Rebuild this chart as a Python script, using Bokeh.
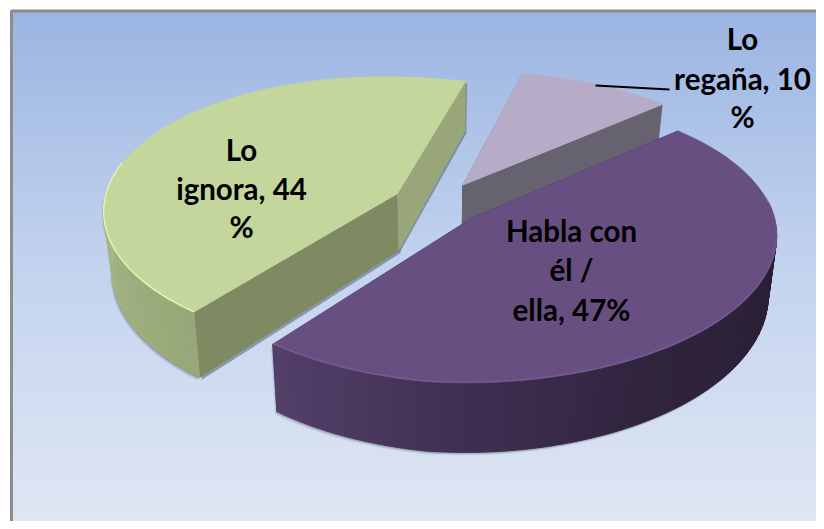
import numpy as np
from bokeh.plotting import figure
from bokeh.models import Range1d
from bokeh.core.properties import value
from bokeh.embed import file_html
from bokeh.resources import INLINE

# ---- data (clockwise from the back-right edge)
categories = ["Habla con él / ella", "Lo ignora", "Lo regaña"]
values = [47, 44, 10]
label_lines = [["Habla con", "él /", "ella, 47%"], ["Lo", "ignora, 44", "%"], ["Lo", "regaña, 10", "%"]]

# ---- styles
top_colors = ["#684F81", "#C3D69B", "#B7ACC8"]
rim_colors = ["#8769A8", "#E6F6B4", "#C6BCD6"]
rim_alphas = [0.45, 0.9, 0.0]
wall_start_colors = ["#2B2137", "#7F8A63", "#67626F"]   # wall at a slice's first cut
wall_end_colors = ["#2B2137", "#98A679", "#67626F"]     # wall at a slice's last cut
arc_stops = [
    [(-124.5, "#54406A"), (-90, "#3F2F52"), (-60, "#30243E"), (-20, "#2A2035"), (43, "#2A2035")],
    [(78.7, "#A9B988"), (180, "#AABA89"), (235.5, "#97A777")],
    [(43, "#67626F"), (78.7, "#67626F")],
]
label_pos = [(571, [230, 269, 309]), (241, [149, 188, 226]), (742, [38, 78, 116])]

# ---- projection of the exploded 3-D pie
CX, CY, R, RT, K, SHEAR, DEPTH, SHRINK, EXPLODE = 438, 203, 297, 136, 0.15, 13, 58, 0.975, 0.155
START = 43.0


def project(X, Y, low=False):
    X, Y = np.asarray(X, float), np.asarray(Y, float)
    s = 1 / (1 + K * Y)
    neg = np.minimum(X, 0)
    x = CX + R * X * s + SHEAR * Y + 6 * neg ** 2
    y = CY - RT * Y * s + 12 * neg
    if low:
        x = CX + (x - CX) * SHRINK
        y = y + DEPTH * s
    return x, y


def hex2rgb(h):
    return np.array([int(h[i:i + 2], 16) for i in (1, 3, 5)], float)


def rgb2hex(c):
    return "#%02X%02X%02X" % tuple(int(round(v)) for v in c)


def stop_color(stops, a):
    stops = sorted(stops)
    angs = [t[0] for t in stops]
    cols = np.array([hex2rgb(t[1]) for t in stops])
    return rgb2hex([np.interp(a, angs, cols[:, j]) for j in range(3)])


p = figure(width=816, height=521, output_backend="svg", toolbar_location=None,
           x_range=Range1d(0, 816), y_range=Range1d(521, 0),
           min_border=0, outline_line_color=None, background_fill_color="white",
           border_fill_color="white")
p.axis.visible = False
p.grid.visible = False

# ---- frame background: vertical gradient + grey border
grad_y = np.arange(11, 530, 2)
top_c, mid_c, bot_c = hex2rgb("#9BB5E2"), hex2rgb("#C3D3EE"), hex2rgb("#E0E7F4")
grad_cols = [rgb2hex(top_c + (mid_c - top_c) * (y - 11) / 253 if y < 264 else mid_c + (bot_c - mid_c) * (y - 264) / 265)
             for y in grad_y]
p.quad(left=11, right=830, top=list(grad_y), bottom=535, fill_color=grad_cols, line_color=None)
p.quad(left=11, right=840, top=10.5, bottom=545, fill_color=None, line_color="#8C8C8C", line_width=3)

# ---- slices, back to front
total = sum(values)
bounds = [START]
for v in values:
    bounds.append(bounds[-1] - 360 * v / total)

order = [2, 1, 0]
for i in order:
    a0, a1 = bounds[i], bounds[i + 1]          # clockwise, a1 < a0
    mid = np.radians((a0 + a1) / 2)
    ox, oy = EXPLODE * np.cos(mid), EXPLODE * np.sin(mid)
    ang = np.linspace(a0, a1, 97)
    arcX = ox + np.cos(np.radians(ang))
    arcY = oy + np.sin(np.radians(ang))
    tx, ty = project(arcX, arcY)
    bx, by = project(arcX, arcY, low=True)
    ax, ay = project(ox, oy)
    alx, aly = project(ox, oy, low=True)

    # soft shadow under the walls
    for sh_dx, sh_dy, alpha in [(-2, 3, 0.10), (-1, 2, 0.18), (-0.5, 1, 0.25)]:
        sx = list(tx) + list(bx[::-1])
        sy = list(ty) + list(by[::-1])
        p.patch(np.array(sx) + sh_dx, np.array(sy) + sh_dy, fill_color="#3A4A5A", fill_alpha=alpha, line_color=None)
        if i == 1:
            p.patch(np.array([ax, tx[0], bx[0], alx]) + 2, np.array([ay, ty[0], by[0], aly]) + 2,
                    fill_color="#3A4A5A", fill_alpha=alpha, line_color=None)
            p.patch(np.array([ax, tx[-1], bx[-1], alx]) + 1, np.array([ay, ty[-1], by[-1], aly]) + 2,
                    fill_color="#3A4A5A", fill_alpha=alpha, line_color=None)

    # radial cut walls
    p.patch([ax, tx[0], bx[0], alx], [ay, ty[0], by[0], aly], fill_color=wall_start_colors[i], line_color=None)
    p.patch([ax, tx[-1], bx[-1], alx], [ay, ty[-1], by[-1], aly], fill_color=wall_end_colors[i], line_color=None)

    # outer curved wall, banded like the original (only the part facing the viewer)
    q_x, q_y, q_c = [], [], []
    for j in range(len(ang) - 1):
        a = (ang[j] + ang[j + 1]) / 2
        if np.sin(np.radians(a)) > 0.12:
            continue
        q_x.append([tx[j], tx[j + 1], bx[j + 1], bx[j]])
        q_y.append([ty[j], ty[j + 1], by[j + 1], by[j]])
        if i == 1:
            a = a % 360
        q_c.append(stop_color(arc_stops[i], a))
    if q_x:
        p.patches(q_x, q_y, fill_color=q_c, line_color=q_c, line_width=1.0)

    # top face
    p.patch([ax] + list(tx), [ay] + list(ty), fill_color=top_colors[i], line_color=top_colors[i], line_width=0.5)
    # rim highlight on the side facing the viewer
    vis = np.sin(np.radians(ang)) < 0.15
    if rim_alphas[i] > 0:
        p.line(tx[vis], ty[vis] - 0.7, line_color=rim_colors[i], line_width=1.5, line_alpha=rim_alphas[i])

# ---- leader line of the small slice's label
leader_x = [595, 669]
leader_y = [85, 89]
p.line(leader_x, leader_y, line_color="black", line_width=2)

# ---- labels
for (lx, ys), lines in zip(label_pos, label_lines):
    p.text(x=[lx] * len(lines), y=ys, text=lines, text_font=value("Lato"), text_font_style="bold",
           text_font_size="29.5px", text_color="black", text_align="center", text_baseline="middle")

open("out.html", "w").write(file_html(p, INLINE))
